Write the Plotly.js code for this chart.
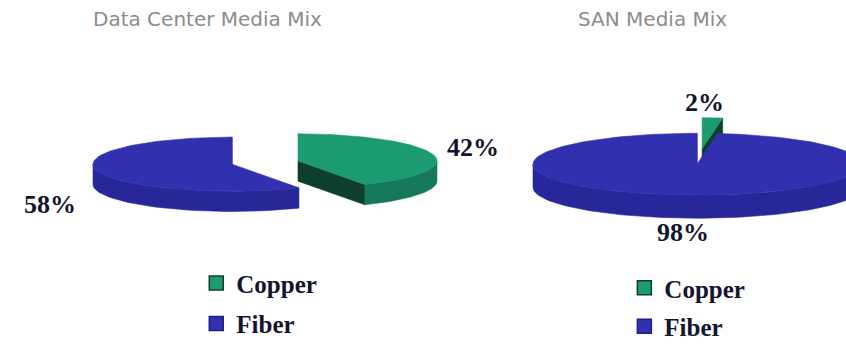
<!DOCTYPE html>
<html>
<head>
<meta charset="utf-8">
<script src="https://cdn.plot.ly/plotly-3.0.1.min.js"></script>
<style>html,body{margin:0;padding:0;background:#fff;}#chart{width:846px;height:349px;}</style>
</head>
<body>
<div id="chart"></div>
<script>
// ---- data ----
const categories = ['Copper', 'Fiber'];
const dataCenterShares = [42, 58];
const sanShares = [2, 98];
const chartTitles = ['Data Center Media Mix', 'SAN Media Mix'];

// ---- styling / geometry (not data) ----
const topColors = {Copper: '#1c9a72', Fiber: '#3131b0'};
const sideColors = {Copper: '#15785a', Fiber: '#27279a'};
const radialColors = {Copper: '#0e3f2d', Fiber: '#1f1f85'};
const pies = [
  {shares: dataCenterShares, cx: 232, cy: 170, a: 139, b: 28, depth: 21, explode: {Copper: 0.49, Fiber: 0},
   labelPos: {Copper: [473, 153], Fiber: [50, 212]}, titleX: 207, legend: 'legend'},
  {shares: sanShares, cx: 697, cy: 170, a: 164, b: 32, depth: 24, explode: {Copper: 0.5, Fiber: 0},
   labelPos: {Copper: [704, 106], Fiber: [683, 241]}, titleX: 652, legend: 'legend2'}
];

function pt(p, ox, oy, t, dy) {
  const r = t * Math.PI / 180;
  return [p.cx + ox + p.a * Math.cos(r), p.cy + oy - p.b * Math.sin(r) + (dy || 0)];
}
function arc(p, ox, oy, t1, t2, dy) {
  const n = Math.max(2, Math.ceil(Math.abs(t2 - t1) / 2));
  const out = [];
  for (let i = 0; i <= n; i++) out.push(pt(p, ox, oy, t1 + (t2 - t1) * i / n, dy));
  return out;
}
function poly(points, color) {
  return {type: 'scatter', mode: 'lines', fill: 'toself', fillcolor: color,
    x: points.map(q => q[0]), y: points.map(q => q[1]),
    line: {color: color, width: 0.6}, hoverinfo: 'skip', showlegend: false};
}

const traces = [];
const annotations = [];
pies.forEach((p, pi) => {
  const total = p.shares.reduce((s, v) => s + v, 0);
  // Copper runs clockwise from 90deg, Fiber counter-clockwise from 90deg
  const slices = categories.map((c, i) => {
    const sweep = 360 * p.shares[i] / total;
    const t1 = c === 'Copper' ? 90 - sweep : 90;
    const t2 = c === 'Copper' ? 90 : 90 + sweep;
    const mid = (t1 + t2) / 2 * Math.PI / 180;
    const e = p.explode[c];
    return {c, value: p.shares[i], t1, t2, ox: e * p.a * Math.cos(mid), oy: -e * p.b * Math.sin(mid), back: Math.sin(mid)};
  });
  slices.sort((u, v) => v.back - u.back);
  slices.forEach(s => {
    const center = [p.cx + s.ox, p.cy + s.oy];
    const centerLow = [center[0], center[1] + p.depth];
    if (Math.cos(s.t1 * Math.PI / 180) > 0) {
      const e1 = pt(p, s.ox, s.oy, s.t1), e2 = pt(p, s.ox, s.oy, s.t1, p.depth);
      traces.push(poly([center, e1, e2, centerLow, center], radialColors[s.c]));
    }
    if (Math.cos(s.t2 * Math.PI / 180) < 0) {
      const e1 = pt(p, s.ox, s.oy, s.t2), e2 = pt(p, s.ox, s.oy, s.t2, p.depth);
      traces.push(poly([center, e1, e2, centerLow, center], radialColors[s.c]));
    }
    for (let k = -1; k <= 1; k++) {
      const lo = Math.max(s.t1, 180 + 360 * k), hi = Math.min(s.t2, 360 + 360 * k);
      if (hi > lo) {
        const top = arc(p, s.ox, s.oy, lo, hi);
        const bot = arc(p, s.ox, s.oy, hi, lo, p.depth);
        traces.push(poly(top.concat(bot, [top[0]]), sideColors[s.c]));
      }
    }
    traces.push(poly([center].concat(arc(p, s.ox, s.oy, s.t1, s.t2), [center]), topColors[s.c]));
    annotations.push({x: p.labelPos[s.c][0], y: p.labelPos[s.c][1], xref: 'x', yref: 'y', showarrow: false,
      text: s.value + '%', font: {family: 'Liberation Serif, Times New Roman, serif', size: 26, color: '#14142e', weight: 'bold'}});
  });
  annotations.push({x: p.titleX, y: 20, xref: 'x', yref: 'y', showarrow: false, text: chartTitles[pi],
    font: {family: 'DejaVu Sans, Arial, sans-serif', size: 20, color: '#8c8c8c'}});
  categories.forEach(c => {
    traces.push({type: 'scatter', mode: 'markers', x: [null], y: [null], name: c, legend: p.legend,
      legendgroup: p.legend + c,
      marker: {symbol: 'square', size: 14, color: topColors[c], line: {color: radialColors[c], width: 1.5}}});
  });
});

const legendFont = {family: 'Liberation Serif, Times New Roman, serif', size: 25, color: '#14142e', weight: 'bold'};
const layout = {
  width: 846, height: 349,
  margin: {l: 0, r: 0, t: 0, b: 0},
  paper_bgcolor: '#ffffff', plot_bgcolor: '#ffffff',
  xaxis: {range: [0, 846], visible: false, fixedrange: true},
  yaxis: {range: [349, 0], visible: false, fixedrange: true},
  annotations: annotations,
  showlegend: true,
  legend: {x: 0.232, y: 0.228, xanchor: 'left', yanchor: 'top', font: legendFont, bgcolor: 'rgba(0,0,0,0)',
    traceorder: 'grouped', tracegroupgap: 5, itemwidth: 30},
  legend2: {x: 0.738, y: 0.213, xanchor: 'left', yanchor: 'top', font: legendFont, bgcolor: 'rgba(0,0,0,0)',
    traceorder: 'grouped', tracegroupgap: 3, itemwidth: 30}
};
Plotly.newPlot('chart', traces, layout, {displayModeBar: false, staticPlot: true});
</script>
</body>
</html>
